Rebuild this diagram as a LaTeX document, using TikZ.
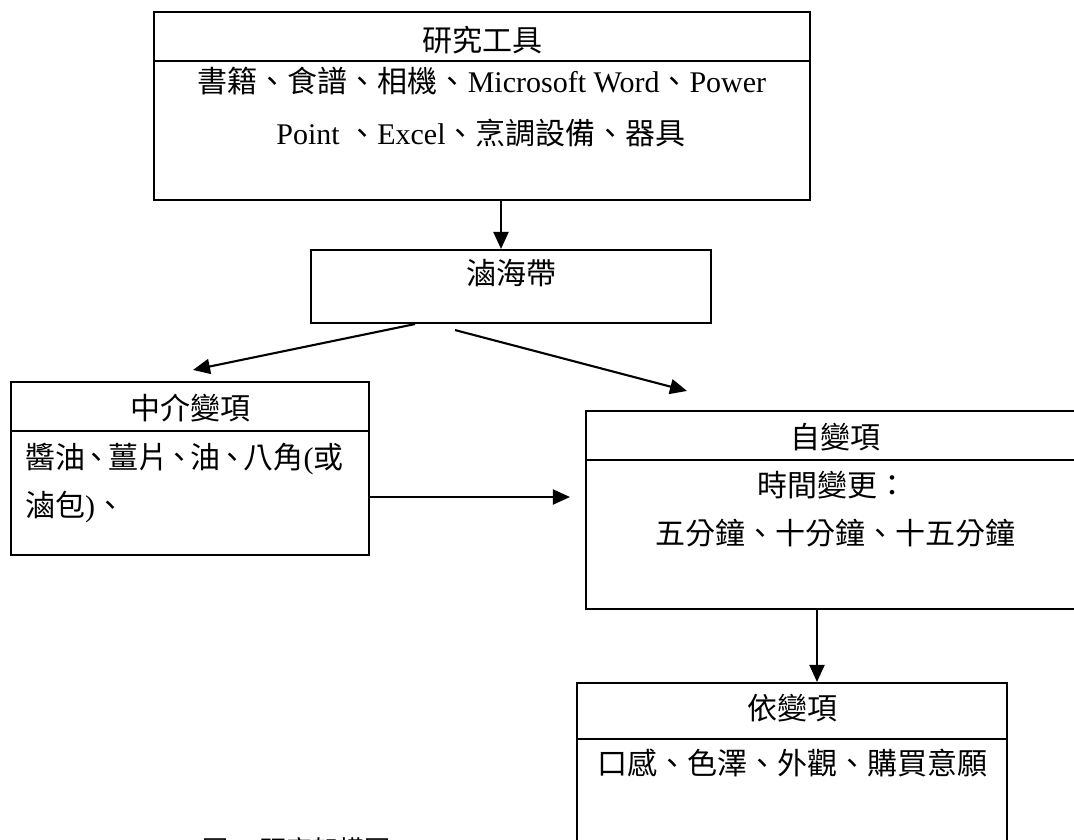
\documentclass[tikz,border=0pt]{standalone}
\usepackage{fontspec}
\setmainfont{Liberation Serif}
\newfontfamily\cjk{Noto Sans CJK TC}
\usetikzlibrary{arrows.meta}
\newcommand{\zhtxt}[1]{{\cjk #1}}
\begin{document}
\begin{tikzpicture}[x=1pt,y=-1pt,
  boxnode/.style={draw,line width=2.1pt,inner sep=0pt},
  divline/.style={line width=2.1pt},
  txt/.style={inner sep=0pt,anchor=base,font=\fontsize{30}{36}\selectfont},
  txtl/.style={txt,anchor=base west},
  arr/.style={line width=2.1pt,-{Triangle[length=17pt,width=15pt]}}]
\useasboundingbox (0,0) rectangle (1074,839);
\clip (0,0) rectangle (1074,839);
\fill[white] (0,0) rectangle (1074,839);
% boxes
\node[boxnode,minimum width=656pt,minimum height=188pt] (tools) at (482,106) {};
\node[boxnode,minimum width=400pt,minimum height=73pt] (lu) at (511,286.5) {};
\node[boxnode,minimum width=358pt,minimum height=173pt] (med) at (190,468.5) {};
\node[boxnode,minimum width=498pt,minimum height=198pt] (ind) at (835,510) {};
\node[boxnode,minimum width=430pt,minimum height=200pt] (dep) at (792,783) {};
% dividers
\draw[divline] (tools.west |- 0,61) -- (tools.east |- 0,61);
\draw[divline] (med.west |- 0,431) -- (med.east |- 0,431);
\draw[divline] (ind.west |- 0,460) -- (ind.east |- 0,460);
\draw[divline] (dep.west |- 0,739) -- (dep.east |- 0,739);
% texts
\node[txt] (toolsT) at (482,51) {\zhtxt{研究工具}};
\node[txt] (toolsA) at (482,92) {\zhtxt{書籍、食譜、相機、}Microsoft Word\zhtxt{、}Power};
\node[txt] (toolsB) at (481,144) {Point\ \zhtxt{、}Excel\zhtxt{、烹調設備、器具}};
\node[txt] (luT) at (511,284) {\zhtxt{滷海帶}};
\node[txt] (medT) at (190,419) {\zhtxt{中介變項}};
\node[txtl] (medA) at (25,468) {\zhtxt{醬油\kern-.12em、\kern-.12em 薑片\kern-.12em、\kern-.12em 油\kern-.12em、\kern-.12em 八角}(\zhtxt{或}};
\node[txtl] (medB) at (25,516) {\zhtxt{滷包})\zhtxt{、}};
\node[txt] (indT) at (835,448) {\zhtxt{自變項}};
\node[txt] (indA) at (832,496) {\zhtxt{時間變更：}};
\node[txt] (indB) at (835,544) {\zhtxt{五分鐘、十分鐘、十五分鐘}};
\node[txt] (depT) at (792,719) {\zhtxt{依變項}};
\node[txt] (depA) at (792,774) {\zhtxt{口感、色澤、外觀、購買意願}};
\node[inner sep=0pt,anchor=base west,font=\fontsize{26}{30}\selectfont] (cap) at (202,859) {\zhtxt{圖一\ 研究架構圖}};
% connectors
\coordinate (medout) at ([yshift=-28.5pt]med.east);
\draw[arr] ([xshift=19pt]tools.south) -- ([xshift=19pt]tools.south |- lu.north);
\draw[arr] ([xshift=-96pt]lu.south) -- ([xshift=3pt,yshift=11pt]med.north);
\draw[arr] ([xshift=-56pt,yshift=-6pt]lu.south) -- ([xshift=-148pt,yshift=19pt]ind.north);
\draw[arr] (medout) -- ([xshift=-15pt]ind.west |- medout);
\draw[arr] ([xshift=-18pt]ind.south) -- ([xshift=-18pt]ind.south |- dep.north);
\end{tikzpicture}
\end{document}
